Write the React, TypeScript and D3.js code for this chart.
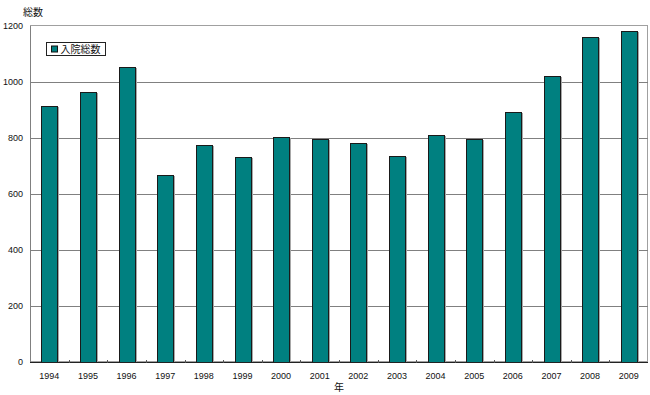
import React, { useEffect, useRef } from 'react'
import * as d3 from 'd3'

const years = ['1994', '1995', '1996', '1997', '1998', '1999', '2000', '2001', '2002', '2003', '2004', '2005', '2006', '2007', '2008', '2009']
const admissions = [915, 964, 1052, 668, 774, 732, 805, 796, 781, 736, 812, 796, 892, 1020, 1162, 1181]
const yTicks = [0, 200, 400, 600, 800, 1000, 1200]
const seriesName = '入院総数'
const yTitle = '総数'
const xTitle = '年'

const FONT = '"Liberation Sans", "Noto Sans CJK JP", sans-serif'

export default function App() {
  const svgRef = useRef<SVGSVGElement>(null)

  useEffect(() => {
    const width = 650
    const height = 395
    const margin = { top: 26, right: 2, bottom: 33, left: 30 }

    const svg = d3.select(svgRef.current)
    svg.selectAll('*').remove()
    svg.attr('width', width).attr('height', height)

    const x = d3.scaleBand()
      .domain(years)
      .range([margin.left, width - margin.right])
      .paddingInner(0.59)
      .paddingOuter(0.295)

    const band = d3.scaleBand().domain(years).range([margin.left, width - margin.right])

    const y = d3.scaleLinear()
      .domain([0, 1200])
      .range([height - margin.bottom, margin.top])

    // plot frame (top / right)
    svg.append('rect')
      .attr('x', margin.left + 0.5)
      .attr('y', margin.top - 0.5)
      .attr('width', width - margin.right - margin.left - 1)
      .attr('height', y(0) - margin.top)
      .attr('fill', 'none')
      .attr('stroke', '#a0a0a0')

    // gridlines
    svg.append('g')
      .selectAll('line')
      .data(yTicks.filter((t) => t > 0 && t < 1200))
      .join('line')
      .attr('x1', margin.left)
      .attr('x2', width - margin.right)
      .attr('y1', (d) => Math.round(y(d)) + 0.5)
      .attr('y2', (d) => Math.round(y(d)) + 0.5)
      .attr('stroke', '#808080')
      .attr('stroke-width', 1)

    // bars: shadow then body
    svg.append('g')
      .selectAll('rect')
      .data(admissions)
      .join('rect')
      .attr('x', (_, i) => Math.round(x(years[i])!) + 1)
      .attr('y', (d) => Math.round(y(d)) + 1)
      .attr('width', Math.round(x.bandwidth()) + 1)
      .attr('height', (d) => Math.round(y(0)) - Math.round(y(d)) - 1)
      .attr('fill', '#a8a8a8')

    svg.append('g')
      .selectAll('rect')
      .data(admissions)
      .join('rect')
      .attr('x', (_, i) => Math.round(x(years[i])!) + 0.5)
      .attr('y', (d) => Math.round(y(d)) + 0.5)
      .attr('width', Math.round(x.bandwidth()))
      .attr('height', (d) => Math.round(y(0)) - Math.round(y(d)))
      .attr('fill', '#008080')
      .attr('stroke', '#1a1a1a')
      .attr('stroke-width', 1)

    // axes lines
    svg.append('line')
      .attr('x1', margin.left + 0.5).attr('x2', margin.left + 0.5)
      .attr('y1', margin.top).attr('y2', y(0))
      .attr('stroke', '#808080')
    svg.append('line')
      .attr('x1', margin.left).attr('x2', width - margin.right)
      .attr('y1', Math.round(y(0)) + 0.5).attr('y2', Math.round(y(0)) + 0.5)
      .attr('stroke', '#222')

    // x category boundary ticks
    svg.append('g')
      .selectAll('line')
      .data(years.slice(1))
      .join('line')
      .attr('x1', (d) => Math.round(band(d)!) + 0.5)
      .attr('x2', (d) => Math.round(band(d)!) + 0.5)
      .attr('y1', Math.round(y(0)) - 2)
      .attr('y2', Math.round(y(0)) + 1)
      .attr('stroke', '#555')

    // y tick labels
    svg.append('g')
      .selectAll('text')
      .data(yTicks)
      .join('text')
      .attr('x', margin.left - 7)
      .attr('y', (d) => y(d))
      .attr('dy', '0.35em')
      .attr('text-anchor', 'end')
      .attr('font-family', FONT)
      .attr('font-size', 9)
      .attr('fill', '#111')
      .text((d) => d)

    // x tick labels
    svg.append('g')
      .selectAll('text')
      .data(years)
      .join('text')
      .attr('x', (d) => band(d)! + band.bandwidth() / 2)
      .attr('y', 379)
      .attr('text-anchor', 'middle')
      .attr('font-family', FONT)
      .attr('font-size', 9)
      .attr('fill', '#111')
      .text((d) => d)

    // axis titles
    svg.append('text')
      .attr('x', 23)
      .attr('y', 16)
      .attr('font-family', FONT)
      .attr('font-size', 10)
      .attr('fill', '#111')
      .text(yTitle)

    svg.append('text')
      .attr('x', (margin.left + width - margin.right) / 2)
      .attr('y', 391)
      .attr('text-anchor', 'middle')
      .attr('font-family', FONT)
      .attr('font-size', 10)
      .attr('fill', '#111')
      .text(xTitle)

    // legend
    const lg = svg.append('g').attr('transform', 'translate(46.5,42.5)')
    lg.append('rect')
      .attr('width', 59)
      .attr('height', 13)
      .attr('fill', '#fff')
      .attr('stroke', '#222')
    lg.append('rect')
      .attr('x', 5)
      .attr('y', 3.5)
      .attr('width', 6)
      .attr('height', 6)
      .attr('fill', '#008080')
      .attr('stroke', '#111')
    lg.append('text')
      .attr('x', 14)
      .attr('y', 10.5)
      .attr('font-family', FONT)
      .attr('font-size', 10)
      .attr('fill', '#111')
      .text(seriesName)
  }, [])

  return (
    <svg
      ref={svgRef}
      style={{ position: 'absolute', left: 0, top: 0, display: 'block', background: '#fff' }}
      role="img"
      aria-label={seriesName}
    />
  )
}
